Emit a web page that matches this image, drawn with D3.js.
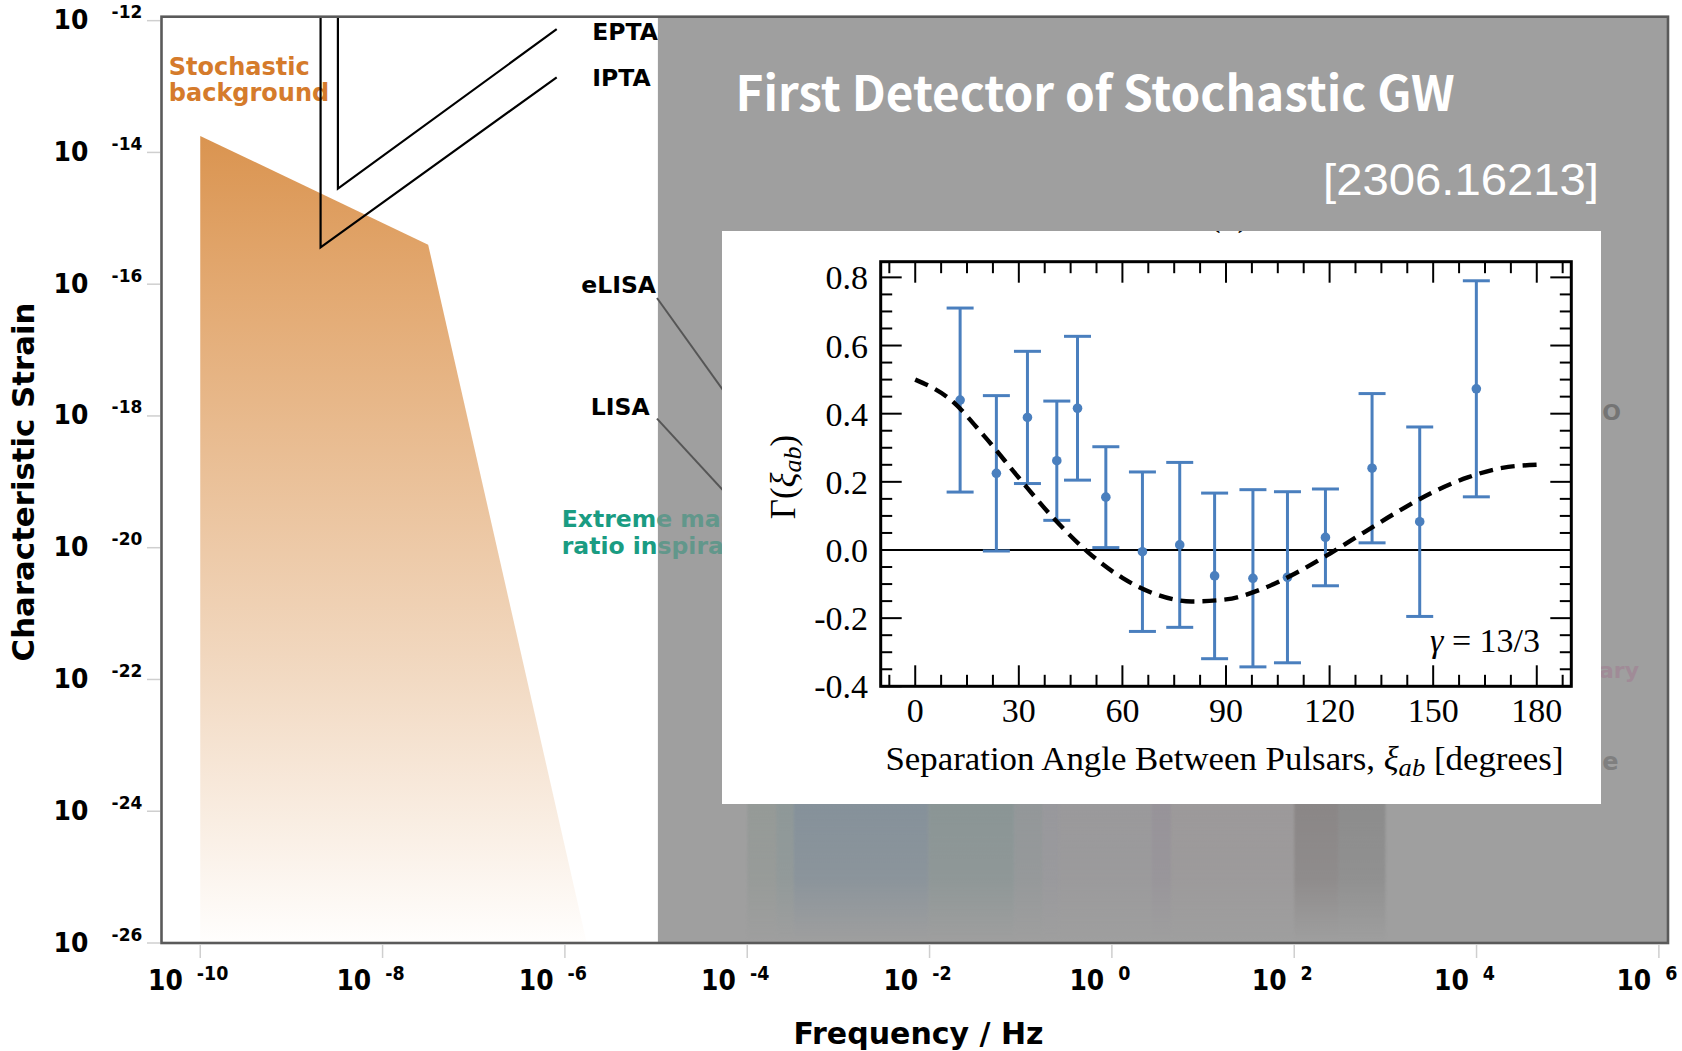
<!DOCTYPE html>
<html>
<head>
<meta charset="utf-8">
<script src="https://cdn.jsdelivr.net/npm/d3@7"></script>
<style>
  html, body { margin: 0; padding: 0; background: #ffffff; }
  svg { display: block; }
</style>
</head>
<body>
<svg id="chart" width="1682" height="1051"></svg>
<script>
// ---------------- main chart data (log10 values) ----------------
const freqTickExps = [-10, -8, -6, -4, -2, 0, 2, 4, 6];
const strainTickExps = [-12, -14, -16, -18, -20, -22, -24, -26];

// stochastic background region: [log10 f, log10 h]
const stochasticRegion = [[-10, -13.75], [-7.5, -15.4], [-5.76, -26], [-10, -26]];
// pulsar timing array sensitivity curves
const eptaCurve = [[-8.49, -11.94], [-8.49, -14.55], [-6.09, -12.13]];
const iptaCurve = [[-8.68, -11.94], [-8.68, -15.44], [-6.09, -12.86]];
// label leader lines for the space-based detectors
const elisaLeader = [[-4.99, -16.21], [-3.42, -19.24]];
const lisaLeader = [[-4.99, -18.04], [-3.42, -20.40]];
// detector bands seen faintly through the shaded panel (log10 f edges)
const bandEdges = [-4.0, -3.68, -3.49, -2.01, -1.07, -0.76, -0.59, 0.44, 0.65, 2.0, 2.48, 3.0];
const bandColors = ['#959a97', '#8e9898', '#85919a', '#8a9595', '#939799', '#98989c',
                    '#9a999b', '#979399', '#9c999a', '#8a8686', '#8c8c8c'];

// ---------------- inset data: pulsar-pair correlations ----------------
const sepAngles    = [13.0, 23.5, 32.5, 41.0, 47.0, 55.2, 65.8, 76.6, 86.7, 97.8, 107.8, 118.8, 132.3, 146.1, 162.5];
const correlations = [0.440, 0.225, 0.389, 0.262, 0.416, 0.155, -0.005, 0.015, -0.076, -0.083, -0.080, 0.037, 0.240, 0.083, 0.473];
const corrErrors   = [0.270, 0.228, 0.194, 0.175, 0.211, 0.148, 0.234, 0.242, 0.243, 0.260, 0.251, 0.142, 0.219, 0.278, 0.317];
// Hellings-Downs expectation curve
const hdAngles = [0, 10, 20, 30, 40, 50, 60, 70, 80, 90, 100, 110, 120, 130, 140, 150, 160, 170, 180];
const hdValues = [0.500, 0.443, 0.334, 0.212, 0.094, -0.006, -0.082, -0.131, -0.151, -0.145, -0.116, -0.069, -0.011, 0.052, 0.114, 0.170, 0.213, 0.241, 0.250];
const insetXTicks = [0, 30, 60, 90, 120, 150, 180];
const insetYTicks = [-0.4, -0.2, 0.0, 0.2, 0.4, 0.6, 0.8];
const insetYLabels = ['-0.4', '-0.2', '0.0', '0.2', '0.4', '0.6', '0.8'];

// ---------------- setup ----------------
const svg = d3.select('#chart');
const SANS = '"DejaVu Sans", sans-serif';
const SERIF = '"Liberation Serif", "Times New Roman", serif';

const fx = d3.scaleLog().domain([10 ** -10.425, 10 ** 6.1]).range([161.5, 1668]);
const fy = d3.scaleLog().domain([1e-26, 10 ** -11.94]).range([943, 16.7]);
const P = ([lf, lh]) => [fx(10 ** lf), fy(10 ** lh)];
const mainLine = d3.line().x(d => P(d)[0]).y(d => P(d)[1]);

const defs = svg.append('defs');

// orange fade for the stochastic background
const sg = defs.append('linearGradient').attr('id', 'stochGrad')
  .attr('gradientUnits', 'userSpaceOnUse')
  .attr('x1', 0).attr('x2', 0)
  .attr('y1', fy(10 ** -13.75)).attr('y2', fy(1e-26));
[[0, '#da9450'], [0.2, '#e3aa73'], [0.674, '#f2dac3'], [1, '#fffefd']]
  .forEach(([o, c]) => sg.append('stop').attr('offset', o).attr('stop-color', c));

// vertical fade + blur for the hidden detector bands
const fg = defs.append('linearGradient').attr('id', 'bandFadeGrad')
  .attr('gradientUnits', 'userSpaceOnUse')
  .attr('x1', 0).attr('x2', 0).attr('y1', 800).attr('y2', 942);
[[0, '#ffffff'], [0.55, '#c4c4c4'], [1, '#000000']]
  .forEach(([o, c]) => fg.append('stop').attr('offset', o).attr('stop-color', c));
defs.append('mask').attr('id', 'bandFade').attr('maskUnits', 'userSpaceOnUse')
  .attr('x', 600).attr('y', 700).attr('width', 1000).attr('height', 260)
  .append('rect').attr('x', 600).attr('y', 700).attr('width', 1000).attr('height', 260)
  .attr('fill', 'url(#bandFadeGrad)');
defs.append('filter').attr('id', 'soft').attr('x', '-5%').attr('y', '-5%')
  .attr('width', '110%').attr('height', '110%')
  .append('feGaussianBlur').attr('stdDeviation', 1.3);

// shaded panel extent
const shadeX0 = fx(10 ** -4.98), shadeX1 = fx.range()[1];
const shadeY0 = fy.range()[1], shadeY1 = fy.range()[0];
defs.append('clipPath').attr('id', 'shadeClip')
  .append('rect').attr('x', shadeX0).attr('y', shadeY0)
  .attr('width', shadeX1 - shadeX0).attr('height', shadeY1 - shadeY0);

// inset panel box
const inset = { x: 722, y: 231, w: 879, h: 573 };
defs.append('clipPath').attr('id', 'insetClip')
  .append('rect').attr('x', inset.x).attr('y', inset.y).attr('width', inset.w).attr('height', inset.h);

svg.append('rect').attr('width', 1682).attr('height', 1051).attr('fill', '#ffffff');

// ---------------- main chart content ----------------
svg.append('path')
  .attr('d', mainLine(stochasticRegion) + 'Z')
  .attr('fill', 'url(#stochGrad)');

svg.append('text')
  .attr('font-family', SANS).attr('font-weight', 'bold').attr('font-size', 24)
  .attr('fill', '#d57b2b')
  .selectAll('tspan').data(['Stochastic', 'background']).join('tspan')
  .attr('x', fx(10 ** -10.345)).attr('y', (d, i) => 74.5 + i * 26.5).text(d => d);

[eptaCurve, iptaCurve].forEach(c => {
  svg.append('path').attr('d', mainLine(c))
    .attr('fill', 'none').attr('stroke', '#000').attr('stroke-width', 2.2);
});

const detLabel = (text, lf, y, anchor) => svg.append('text')
  .attr('x', fx(10 ** lf)).attr('y', y).attr('text-anchor', anchor)
  .attr('font-family', SANS).attr('font-weight', 'bold').attr('font-size', 23.5)
  .attr('fill', '#000').text(text);
detLabel('EPTA', -5.70, 40, 'start');
detLabel('IPTA', -5.70, 86, 'start');
detLabel('eLISA', -5.0, 292.5, 'end');
detLabel('LISA', -5.07, 415, 'end');

const emriLines = ['Extreme mass', 'ratio inspirals'];
const emriText = (color, clip) => {
  const t = svg.append('text')
    .attr('font-family', SANS).attr('font-weight', 'bold').attr('font-size', 23.5)
    .attr('fill', color);
  if (clip) t.attr('clip-path', 'url(#shadeClip)');
  t.selectAll('tspan').data(emriLines).join('tspan')
    .attr('x', fx(10 ** -6.035)).attr('y', (d, i) => 526.5 + i * 27.5).text(d => d);
};
emriText('#1a9c82', false);

// shaded panel
svg.append('rect')
  .attr('x', shadeX0).attr('y', shadeY0)
  .attr('width', shadeX1 - shadeX0).attr('height', shadeY1 - shadeY0)
  .attr('fill', '#9f9f9f');

// faint detector bands
svg.append('g').attr('mask', 'url(#bandFade)').attr('filter', 'url(#soft)')
  .selectAll('rect').data(bandColors).join('rect')
  .attr('x', (d, i) => fx(10 ** bandEdges[i]))
  .attr('width', (d, i) => fx(10 ** bandEdges[i + 1]) - fx(10 ** bandEdges[i]))
  .attr('y', 760).attr('height', 182)
  .attr('fill', d => d);

[elisaLeader, lisaLeader].forEach(c => {
  svg.append('path').attr('d', mainLine(c))
    .attr('fill', 'none').attr('stroke', '#565656').attr('stroke-width', 2);
});
emriText('#62978b', true);

// label endings showing beside the inset
const fragment = (text, x, y, size, color) => svg.append('text')
  .attr('x', x).attr('y', y).attr('text-anchor', 'end')
  .attr('font-family', SANS).attr('font-weight', 'bold').attr('font-size', size)
  .attr('fill', color).text(text);
fragment('O', 1621, 420, 22, '#747474');
fragment('ary', 1639, 678, 22, '#a08b97');
fragment('e', 1618.5, 770, 24, '#7f7f7f');

// frame
svg.append('rect')
  .attr('x', fx.range()[0]).attr('y', fy.range()[1])
  .attr('width', fx.range()[1] - fx.range()[0]).attr('height', fy.range()[0] - fy.range()[1])
  .attr('fill', 'none').attr('stroke', '#5a5a5a').attr('stroke-width', 2.6);

// ticks
svg.append('g').selectAll('line').data(freqTickExps).join('line')
  .attr('x1', e => fx(10 ** e)).attr('x2', e => fx(10 ** e))
  .attr('y1', 945).attr('y2', 958).attr('stroke', '#cfcfcf').attr('stroke-width', 1.5);
svg.append('g').selectAll('line').data(strainTickExps).join('line')
  .attr('y1', e => fy(10 ** e)).attr('y2', e => fy(10 ** e))
  .attr('x1', 147).attr('x2', 160).attr('stroke', '#cfcfcf').attr('stroke-width', 1.5);

// tick labels: 10 with raised exponent (slightly tall lettering)
const tallText = (x, y, size, sy, text) => svg.append('text')
  .attr('transform', `translate(${x},${y}) scale(1,${sy})`)
  .attr('font-family', SANS).attr('font-weight', 'bold').attr('font-size', size).text(text);
freqTickExps.forEach(e => {
  const cx = fx(10 ** e) - 12;
  const t1 = tallText(0, 990, 25, 1.15, '10');
  const t2 = tallText(0, 980, 17.5, 1.08, String(e));
  const w1 = t1.node().getComputedTextLength(), w2 = t2.node().getComputedTextLength();
  const gap = 14;
  const x0 = cx - (w1 + gap + w2) / 2;
  t1.attr('transform', `translate(${x0},990) scale(1,1.15)`);
  t2.attr('transform', `translate(${x0 + w1 + gap},980) scale(1,1.08)`);
});
strainTickExps.forEach(e => {
  const y = fy(10 ** e);
  tallText(53.6, y + 8.5, 25, 1.06, '10');
  tallText(111.6, y - 2.5, 17, 1.04, String(e));
});

// axis titles
svg.append('text').attr('x', 918.5).attr('y', 1044).attr('text-anchor', 'middle')
  .attr('font-family', SANS).attr('font-weight', 'bold').attr('font-size', 30)
  .text('Frequency / Hz');
svg.append('text').attr('transform', 'translate(33.5,482) rotate(-90)').attr('text-anchor', 'middle')
  .attr('font-family', SANS).attr('font-weight', 'bold').attr('font-size', 30.8)
  .text('Characteristic Strain');

// headline text on the shaded panel
svg.append('text').attr('x', 735.6).attr('y', 110.5)
  .attr('font-family', '"Noto Sans CJK KR", "Noto Sans", sans-serif').attr('font-weight', 'bold')
  .attr('font-size', 48).attr('fill', '#ffffff')
  .attr('textLength', 719).attr('lengthAdjust', 'spacingAndGlyphs')
  .text('First Detector of Stochastic GW');
svg.append('text').attr('x', 1599).attr('y', 195).attr('text-anchor', 'end')
  .attr('font-family', '"Liberation Sans", Arial, sans-serif')
  .attr('font-size', 45).attr('fill', '#ffffff')
  .attr('textLength', 276).attr('lengthAdjust', 'spacingAndGlyphs')
  .text('[2306.16213]');

// ---------------- inset ----------------
svg.append('rect').attr('x', inset.x).attr('y', inset.y)
  .attr('width', inset.w).attr('height', inset.h).attr('fill', '#ffffff');

// panel letter, mostly cut off by the inset edge
svg.append('text').attr('clip-path', 'url(#insetClip)')
  .attr('x', 1229).attr('y', 226).attr('text-anchor', 'middle')
  .attr('font-family', SERIF).attr('font-size', 34).attr('fill', '#000')
  .text('(b)');

const ix = d3.scaleLinear().domain([-10, 190]).range([880.7, 1571.3]);
const iy = d3.scaleLinear().domain([-0.4, 0.846]).range([686.3, 261.7]);
const [ix0, ix1] = ix.range();
const [iy0, iy1] = iy.range();

const g = svg.append('g');

// ticks (inward, all four sides)
const majLen = 21, minLen = 11.5;
const xMinor = d3.range(-1, 26).map(k => k * 7.5).filter(v => v % 30 !== 0 && v > -10 && v < 190);
const yMinor = d3.range(-8, 17).map(k => k * 0.05).filter((v, i) => (i % 4) !== 0);
const tickG = g.append('g').attr('stroke', '#000').attr('stroke-width', 2);
[[insetXTicks, majLen], [xMinor, minLen]].forEach(([vals, len]) => {
  vals.forEach(v => {
    tickG.append('line').attr('x1', ix(v)).attr('x2', ix(v)).attr('y1', iy0).attr('y2', iy0 - len);
    tickG.append('line').attr('x1', ix(v)).attr('x2', ix(v)).attr('y1', iy1).attr('y2', iy1 + len);
  });
});
[[insetYTicks, majLen], [yMinor, minLen]].forEach(([vals, len]) => {
  vals.forEach(v => {
    tickG.append('line').attr('y1', iy(v)).attr('y2', iy(v)).attr('x1', ix0).attr('x2', ix0 + len);
    tickG.append('line').attr('y1', iy(v)).attr('y2', iy(v)).attr('x1', ix1).attr('x2', ix1 - len);
  });
});

// zero line
g.append('line').attr('x1', ix0).attr('x2', ix1).attr('y1', iy(0)).attr('y2', iy(0))
  .attr('stroke', '#000').attr('stroke-width', 2);

// error bars
const BLUE = '#4a7fbe';
const capW = 13.5;
const bars = g.append('g').attr('stroke', BLUE).attr('stroke-width', 3).attr('fill', BLUE);
sepAngles.forEach((a, i) => {
  const x = ix(a), lo = iy(correlations[i] - corrErrors[i]), hi = iy(correlations[i] + corrErrors[i]);
  bars.append('line').attr('x1', x).attr('x2', x).attr('y1', lo).attr('y2', hi);
  bars.append('line').attr('x1', x - capW).attr('x2', x + capW).attr('y1', lo).attr('y2', lo);
  bars.append('line').attr('x1', x - capW).attr('x2', x + capW).attr('y1', hi).attr('y2', hi);
  bars.append('circle').attr('cx', x).attr('cy', iy(correlations[i])).attr('r', 4.8).attr('stroke', 'none');
});

// expected correlation curve
g.append('path')
  .datum(hdAngles.map((a, i) => [a, hdValues[i]]))
  .attr('d', d3.line().x(d => ix(d[0])).y(d => iy(d[1])).curve(d3.curveMonotoneX))
  .attr('fill', 'none').attr('stroke', '#000').attr('stroke-width', 4.4)
  .attr('stroke-dasharray', '14,8');

// frame
g.append('rect').attr('x', ix0).attr('y', iy1).attr('width', ix1 - ix0).attr('height', iy0 - iy1)
  .attr('fill', 'none').attr('stroke', '#000').attr('stroke-width', 3);

// tick labels
g.append('g').selectAll('text').data(insetYTicks).join('text')
  .attr('x', 868).attr('y', v => iy(v) + 12).attr('text-anchor', 'end')
  .attr('font-family', SERIF).attr('font-size', 34)
  .text((v, i) => insetYLabels[i]);
g.append('g').selectAll('text').data(insetXTicks).join('text')
  .attr('x', v => ix(v)).attr('y', 721.7).attr('text-anchor', 'middle')
  .attr('font-family', SERIF).attr('font-size', 34)
  .text(v => String(v));

// axis titles
const xt = g.append('text').attr('x', 885.5).attr('y', 770)
  .attr('font-family', SERIF).attr('font-size', 34)
  .attr('textLength', 678).attr('lengthAdjust', 'spacingAndGlyphs');
xt.append('tspan').text('Separation Angle Between Pulsars, ');
xt.append('tspan').attr('font-style', 'italic').text('ξ');
xt.append('tspan').attr('font-style', 'italic').attr('font-size', 26).attr('dy', 6).text('ab');
xt.append('tspan').attr('dy', -6).text(' [degrees]');

const yt = g.append('text').attr('transform', 'translate(795,477) rotate(-90)').attr('text-anchor', 'middle')
  .attr('font-family', SERIF).attr('font-size', 35);
yt.append('tspan').text('Γ(');
yt.append('tspan').attr('font-style', 'italic').text('ξ');
yt.append('tspan').attr('font-style', 'italic').attr('font-size', 26).attr('dy', 6).text('ab');
yt.append('tspan').attr('dy', -6).text(')');

const gt = g.append('text').attr('x', 1540).attr('y', 652).attr('text-anchor', 'end')
  .attr('font-family', SERIF).attr('font-size', 34);
gt.append('tspan').attr('font-style', 'italic').text('γ');
gt.append('tspan').text(' = 13/3');
</script>
</body>
</html>
